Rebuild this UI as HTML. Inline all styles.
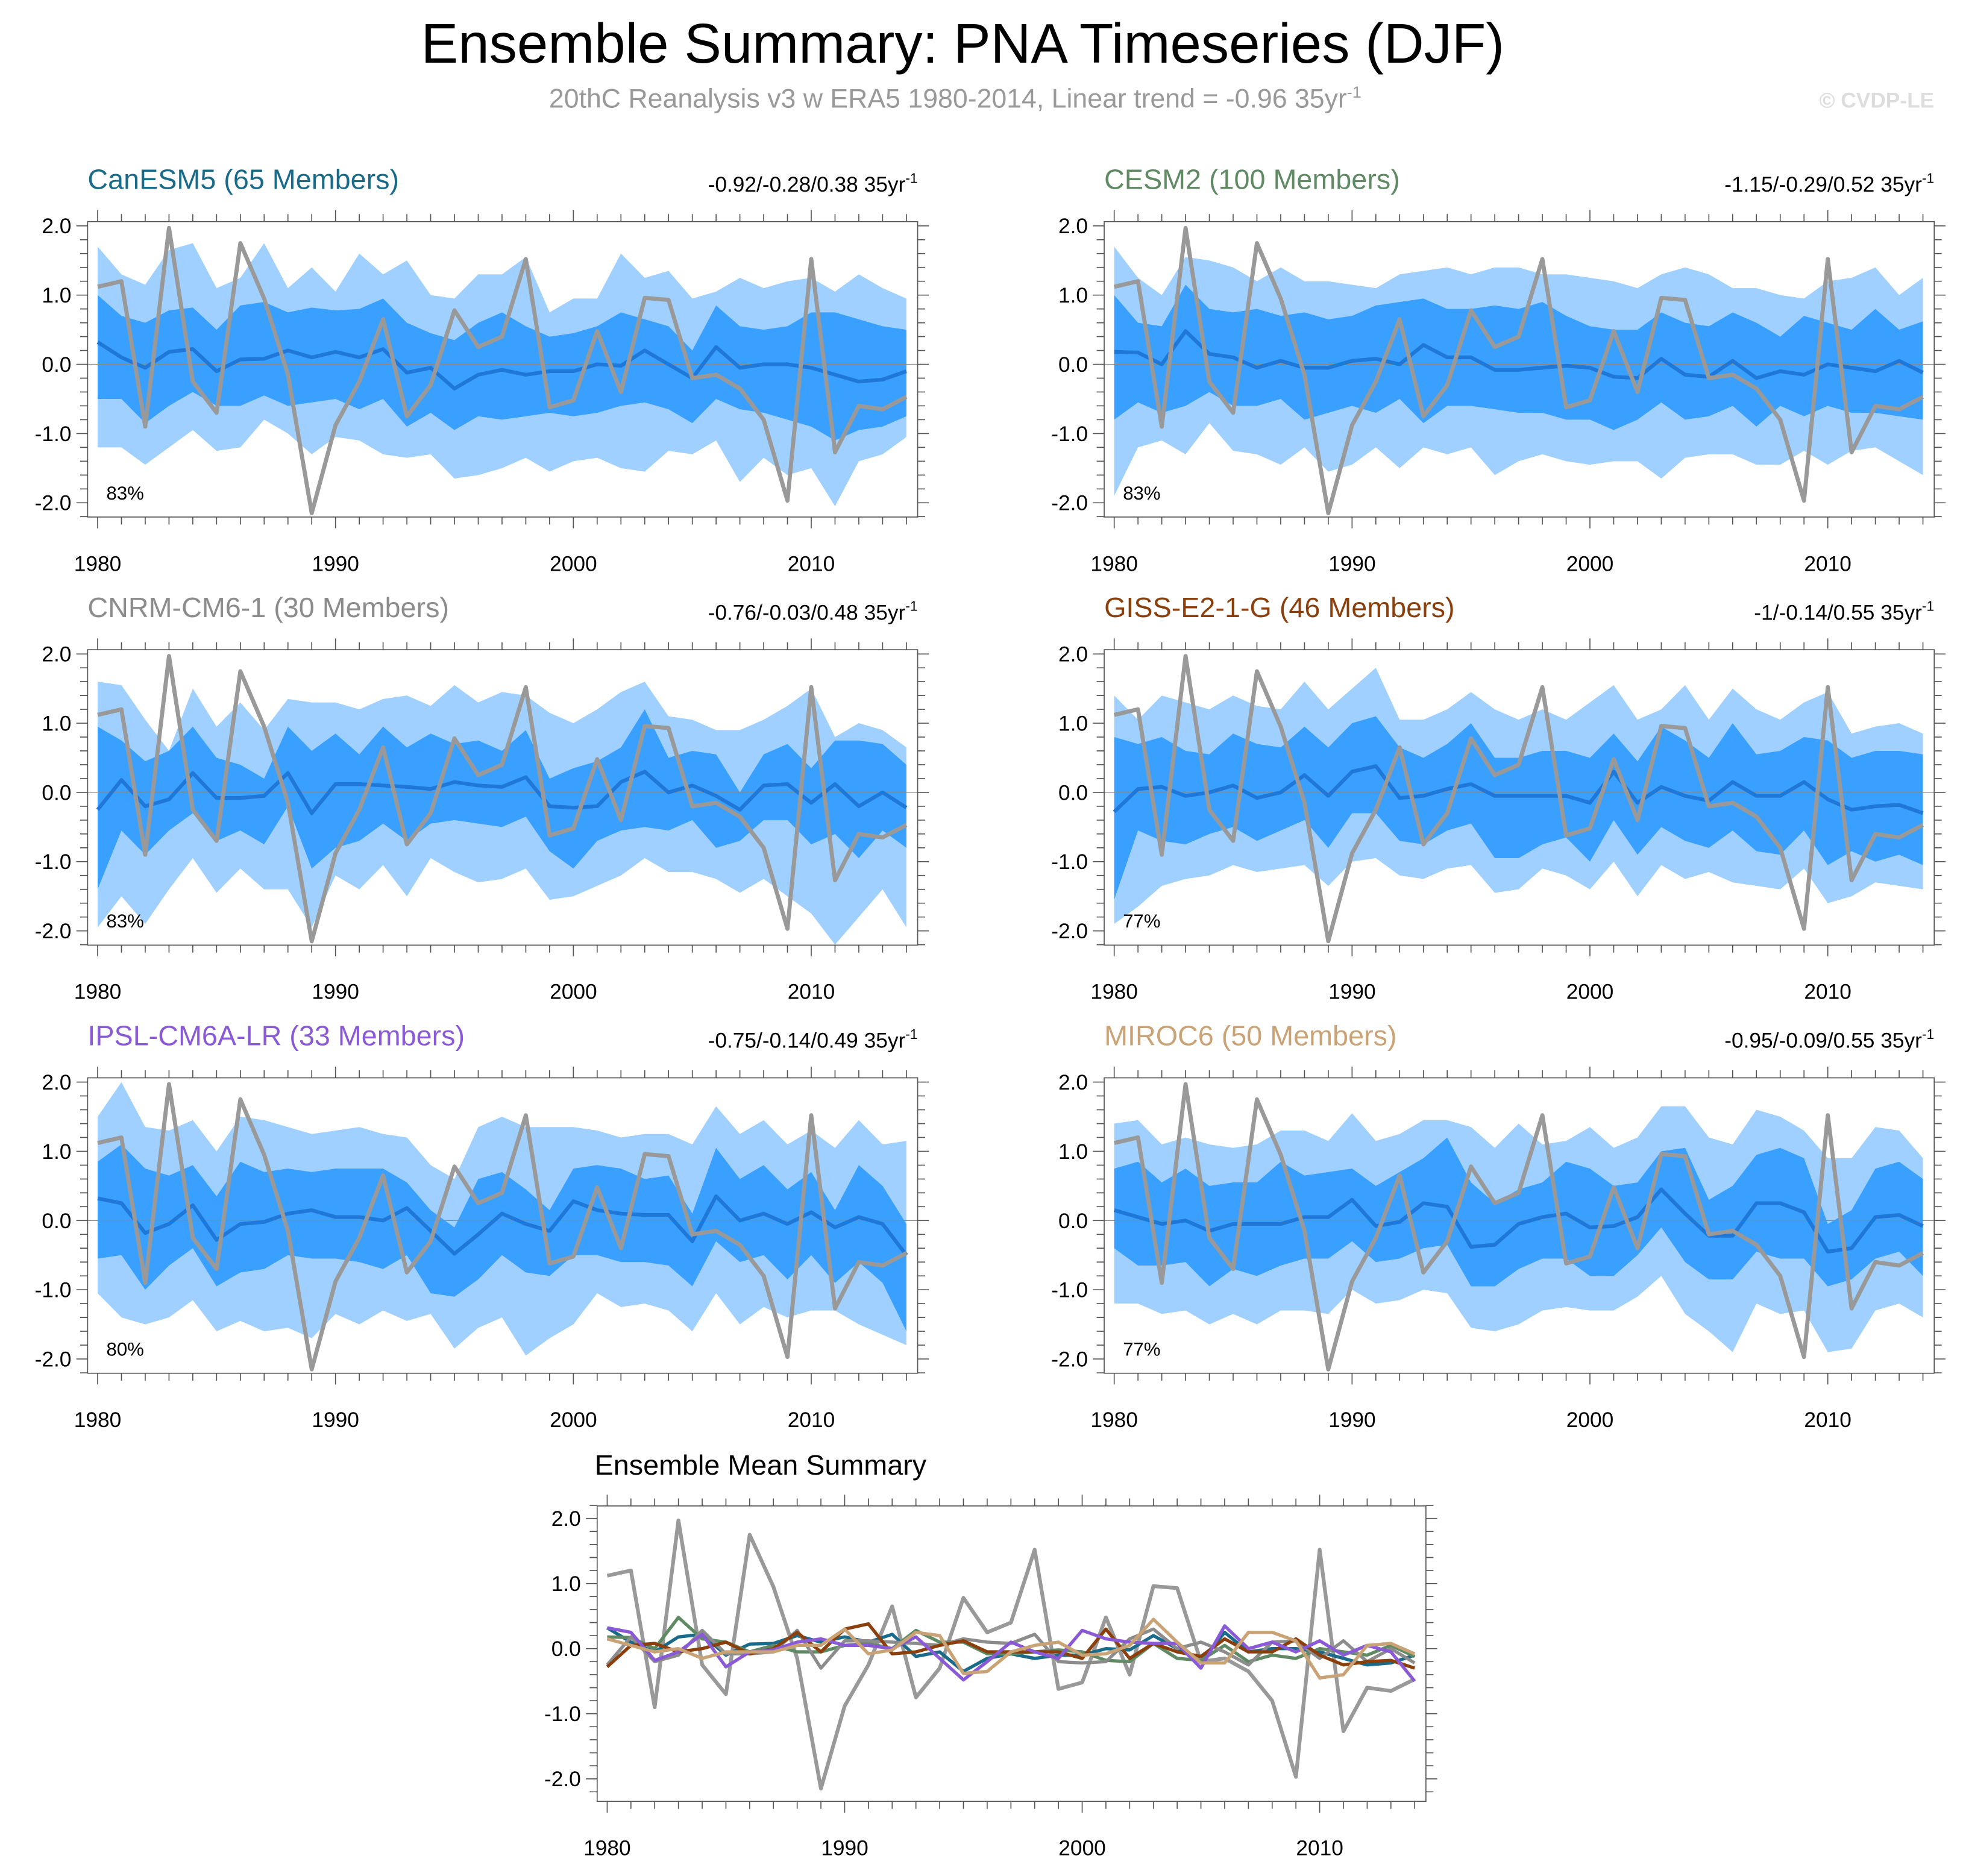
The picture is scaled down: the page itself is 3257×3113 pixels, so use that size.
<!DOCTYPE html>
<html><head><meta charset="utf-8"><style>html,body{margin:0;padding:0;background:#fff}svg{display:block}text{font-family:"Liberation Sans",sans-serif}</style></head>
<body>
<svg id="chart" width="3257" height="3113" viewBox="0 0 1568 1498.6" xmlns="http://www.w3.org/2000/svg">
<text x="769" y="50" font-size="44.5" text-anchor="middle">Ensemble Summary: PNA Timeseries (DJF)</text>
<text x="763" y="86" font-size="21.5" fill="#999" text-anchor="middle">20thC Reanalysis v3 w ERA5 1980-2014, Linear trend = -0.96 35yr<tspan font-size="13" dy="-8">-1</tspan></text>
<text x="1545" y="86" font-size="17" font-weight="bold" fill="#ddd" text-anchor="end">© CVDP-LE</text>
<g id="panels"></g>
</svg>
<script>
const years = Array.from({length:35},(_, i)=>1980+i);
const obs = [1.12,1.2,-0.9,1.97,-0.25,-0.7,1.75,0.95,-0.15,-2.15,-0.88,-0.25,0.65,-0.75,-0.3,0.78,0.25,0.4,1.52,-0.62,-0.52,0.48,-0.4,0.96,0.93,-0.2,-0.15,-0.35,-0.8,-1.97,1.52,-1.27,-0.6,-0.65,-0.47];

const canMean=[0.32,0.1,-0.05,0.18,0.22,-0.1,0.07,0.08,0.2,0.1,0.18,0.1,0.22,-0.12,-0.05,-0.35,-0.15,-0.08,-0.15,-0.1,-0.1,0.0,-0.02,0.2,0.0,-0.2,0.25,-0.05,0.0,0.0,-0.05,-0.15,-0.25,-0.22,-0.1];
const canHi1=[1.0,0.7,0.6,0.78,0.82,0.5,0.85,0.9,0.75,0.82,0.78,0.8,0.95,0.6,0.45,0.35,0.6,0.75,0.55,0.4,0.45,0.55,0.75,0.65,0.55,0.2,0.85,0.55,0.5,0.55,0.75,0.75,0.65,0.55,0.5];
const canLo1=[-0.5,-0.5,-0.85,-0.6,-0.4,-0.6,-0.6,-0.45,-0.6,-0.55,-0.5,-0.65,-0.5,-0.9,-0.7,-0.95,-0.75,-0.8,-0.75,-0.7,-0.75,-0.7,-0.6,-0.55,-0.65,-0.85,-0.5,-0.65,-0.7,-0.8,-0.9,-1.1,-0.95,-0.9,-0.75];
const canHi2=[1.7,1.3,1.15,1.65,1.75,1.1,1.25,1.75,1.1,1.4,1.05,1.6,1.3,1.5,1.0,0.95,1.3,1.3,1.55,0.75,0.95,0.95,1.6,1.25,1.35,0.95,1.05,1.25,1.1,1.2,1.25,1.05,1.3,1.1,0.95];
const canLo2=[-1.2,-1.2,-1.45,-1.2,-0.95,-1.25,-1.2,-0.8,-1.0,-1.3,-1.05,-1.1,-1.3,-1.35,-1.3,-1.65,-1.6,-1.5,-1.35,-1.55,-1.4,-1.35,-1.5,-1.55,-1.25,-1.3,-1.1,-1.7,-1.35,-1.6,-1.5,-2.05,-1.4,-1.3,-1.05];

const cesMean=[0.18,0.17,0.0,0.48,0.15,0.1,-0.05,0.05,-0.05,-0.05,0.05,0.08,0.0,0.28,0.1,0.1,-0.08,-0.08,-0.05,-0.02,-0.05,-0.18,-0.2,0.08,-0.15,-0.18,0.05,-0.2,-0.1,-0.15,0.0,-0.05,-0.1,0.05,-0.12];
const cesHi1=[1.0,0.6,0.55,1.15,0.8,0.75,0.8,0.7,0.75,0.65,0.7,0.85,0.9,0.95,0.8,0.8,0.85,0.8,0.9,0.7,0.55,0.5,0.5,0.75,0.6,0.55,0.75,0.6,0.4,0.7,0.6,0.5,0.8,0.5,0.62];
const cesLo1=[-0.8,-0.55,-0.7,-0.6,-0.4,-0.6,-0.6,-0.5,-0.8,-0.7,-0.6,-0.7,-0.5,-0.85,-0.6,-0.6,-0.65,-0.7,-0.7,-0.8,-0.8,-0.95,-0.8,-0.55,-0.8,-0.75,-0.6,-0.9,-0.6,-0.75,-0.6,-0.7,-0.7,-0.75,-0.8];
const cesHi2=[1.7,1.25,1.0,1.55,1.5,1.4,1.2,1.4,1.2,1.2,1.15,1.1,1.3,1.35,1.4,1.3,1.4,1.4,1.3,1.3,1.25,1.2,1.1,1.3,1.4,1.3,1.1,1.1,1.0,0.95,1.2,1.25,1.4,1.0,1.25];
const cesLo2=[-1.9,-1.2,-1.1,-1.3,-0.85,-1.25,-1.3,-1.45,-1.2,-1.55,-1.45,-1.2,-1.5,-1.2,-1.3,-1.2,-1.6,-1.4,-1.3,-1.4,-1.45,-1.4,-1.4,-1.65,-1.35,-1.3,-1.3,-1.45,-1.45,-1.25,-1.45,-1.25,-1.2,-1.4,-1.6];

const cnrMean=[-0.25,0.18,-0.2,-0.1,0.28,-0.08,-0.08,-0.05,0.28,-0.3,0.12,0.12,0.1,0.08,0.05,0.15,0.1,0.08,0.22,-0.2,-0.22,-0.2,0.15,0.3,0.0,0.1,-0.05,-0.25,0.1,0.12,-0.15,0.12,-0.2,0.0,-0.22];
const cnrHi1=[0.95,0.75,0.45,0.6,0.95,0.5,0.4,0.2,0.95,0.6,0.85,0.55,0.95,0.65,0.85,0.7,0.75,0.6,0.9,0.2,0.35,0.45,0.65,1.2,0.5,0.6,0.55,0.0,0.55,0.7,0.35,0.75,0.75,0.7,0.4];
const cnrLo1=[-1.4,-0.55,-0.9,-0.55,-0.3,-0.7,-0.55,-0.75,-0.2,-1.1,-0.8,-0.7,-0.45,-0.7,-0.45,-0.4,-0.45,-0.5,-0.35,-0.85,-1.1,-0.7,-0.55,-0.5,-0.55,-0.4,-0.8,-0.7,-0.4,-0.4,-0.75,-0.6,-0.95,-0.55,-0.8];
const cnrHi2=[1.6,1.55,1.05,0.6,1.5,0.95,1.3,0.9,1.35,1.3,1.3,1.2,1.35,1.4,1.25,1.55,1.3,1.45,1.4,1.15,1.0,1.2,1.45,1.6,1.1,1.05,0.9,0.9,1.05,1.25,1.5,0.8,1.0,0.9,0.65];
const cnrLo2=[-1.95,-1.5,-1.9,-1.4,-0.95,-1.45,-1.1,-1.4,-1.4,-1.95,-1.2,-1.4,-1.05,-1.5,-0.95,-1.15,-1.3,-1.25,-1.1,-1.55,-1.5,-1.35,-1.2,-0.95,-1.15,-1.15,-1.25,-1.45,-1.25,-1.5,-1.75,-2.2,-1.8,-1.4,-1.95];

const gisMean=[-0.28,0.05,0.08,-0.05,0.0,0.1,-0.08,0.0,0.25,-0.05,0.3,0.38,-0.08,-0.05,0.05,0.12,-0.05,-0.05,-0.05,-0.05,-0.15,0.3,-0.15,0.08,-0.05,-0.12,0.15,-0.05,-0.05,0.15,-0.1,-0.25,-0.2,-0.18,-0.3];
const gisHi1=[0.8,0.7,0.8,0.6,0.55,0.85,0.7,0.65,0.95,0.65,1.0,1.1,0.65,0.5,0.7,1.0,0.5,0.5,0.6,0.6,0.5,0.85,0.45,0.95,0.75,0.5,1.0,0.55,0.6,0.8,0.75,0.5,0.6,0.6,0.55];
const gisLo1=[-1.55,-0.55,-0.7,-0.75,-0.6,-0.5,-0.7,-0.55,-0.4,-0.8,-0.3,-0.3,-0.7,-0.75,-0.55,-0.45,-0.95,-0.95,-0.75,-0.65,-1.0,-0.4,-0.9,-0.5,-0.7,-0.8,-0.55,-0.85,-0.9,-0.55,-1.05,-0.85,-1.0,-0.9,-1.05];
const gisHi2=[1.4,1.05,1.4,1.3,1.2,1.4,1.25,1.2,1.6,1.2,1.5,1.8,1.05,1.05,1.2,1.45,1.2,1.05,1.2,1.05,1.3,1.55,1.05,1.2,1.55,1.05,1.5,1.2,1.05,1.3,1.45,0.85,0.95,1.0,0.85];
const gisLo2=[-1.9,-1.65,-1.35,-1.25,-1.2,-1.05,-1.15,-1.1,-1.05,-1.35,-1.0,-0.95,-1.2,-1.25,-1.1,-1.05,-1.45,-1.4,-1.1,-1.2,-1.4,-1.0,-1.5,-1.05,-1.25,-1.15,-1.3,-1.35,-1.4,-1.1,-1.6,-1.5,-1.3,-1.35,-1.4];

const ipsMean=[0.32,0.25,-0.18,-0.05,0.22,-0.28,-0.05,-0.02,0.1,0.15,0.05,0.05,0.0,0.18,-0.15,-0.48,-0.2,0.1,-0.05,-0.15,0.28,0.15,0.1,0.08,0.08,-0.3,0.35,0.0,0.1,-0.05,0.12,-0.1,0.05,-0.05,-0.5];
const ipsHi1=[0.85,1.1,0.75,0.65,0.8,0.35,0.85,0.7,0.75,0.7,0.75,0.75,0.75,0.55,0.15,-0.1,0.6,0.7,0.45,0.15,0.75,0.8,0.75,0.6,0.65,0.1,1.05,0.6,0.8,0.45,0.7,0.15,0.8,0.5,-0.05];
const ipsLo1=[-0.55,-0.5,-1.0,-0.65,-0.4,-0.95,-0.75,-0.7,-0.5,-0.55,-0.55,-0.6,-0.7,-0.5,-1.05,-1.1,-0.85,-0.5,-0.75,-0.8,-0.5,-0.5,-0.6,-0.6,-0.65,-0.95,-0.3,-0.6,-0.5,-0.85,-0.5,-0.9,-0.6,-0.9,-1.6];
const ipsHi2=[1.5,2.0,1.35,1.3,1.45,1.0,1.5,1.45,1.35,1.25,1.3,1.35,1.25,1.2,0.8,0.6,1.35,1.5,1.35,1.35,1.35,1.3,1.2,1.25,1.25,1.1,1.65,1.25,1.45,1.1,1.3,1.05,1.45,1.1,1.15];
const ipsLo2=[-1.05,-1.4,-1.5,-1.4,-1.15,-1.6,-1.45,-1.6,-1.55,-1.7,-1.35,-1.5,-1.3,-1.45,-1.35,-1.85,-1.55,-1.4,-1.95,-1.7,-1.5,-1.05,-1.25,-1.2,-1.3,-1.6,-1.05,-1.5,-1.25,-1.4,-1.3,-1.3,-1.5,-1.65,-1.8];

const mirMean=[0.15,0.05,-0.05,0.0,-0.15,-0.05,-0.05,-0.05,0.05,0.05,0.3,-0.08,-0.02,0.25,0.2,-0.38,-0.35,-0.05,0.05,0.1,-0.1,-0.08,0.05,0.45,0.1,-0.22,-0.22,0.25,0.25,0.12,-0.45,-0.4,0.05,0.08,-0.08];
const mirHi1=[0.75,0.85,0.55,0.75,0.5,0.55,0.55,0.85,0.65,0.7,0.75,0.5,0.7,0.9,1.2,0.55,0.25,0.45,0.55,0.85,0.75,0.5,0.55,1.0,1.05,0.3,0.5,0.95,1.05,0.9,-0.05,0.15,0.75,0.85,0.6];
const mirLo1=[-0.4,-0.65,-0.65,-0.6,-0.95,-0.7,-0.8,-0.65,-0.55,-0.55,-0.3,-0.6,-0.55,-0.4,-0.35,-0.95,-0.95,-0.7,-0.55,-0.55,-0.8,-0.8,-0.5,-0.1,-0.6,-0.85,-0.85,-0.45,-0.55,-0.55,-0.95,-0.85,-0.55,-0.45,-0.8];
const mirHi2=[1.4,1.45,1.1,1.2,1.1,1.05,1.1,1.3,1.3,1.15,1.55,1.15,1.25,1.45,1.45,1.35,1.05,1.4,1.1,1.15,1.35,1.05,1.2,1.65,1.65,1.2,1.1,1.6,1.5,1.3,0.9,0.9,1.35,1.3,0.9];
const mirLo2=[-1.2,-1.2,-1.35,-1.3,-1.5,-1.35,-1.5,-1.3,-1.3,-1.35,-1.0,-1.2,-1.15,-1.0,-1.05,-1.55,-1.6,-1.5,-1.3,-1.25,-1.3,-1.3,-1.1,-0.8,-1.35,-1.6,-1.9,-1.2,-1.35,-1.3,-1.9,-1.85,-1.3,-1.2,-1.4];

const modelNames=["CanESM5 (65 Members)","CESM2 (100 Members)","CNRM-CM6-1 (30 Members)","GISS-E2-1-G (46 Members)","IPSL-CM6A-LR (33 Members)","MIROC6 (50 Members)"];
const modelStats=["-0.92/-0.28/0.38","-1.15/-0.29/0.52","-0.76/-0.03/0.48","-1/-0.14/0.55","-0.75/-0.14/0.49","-0.95/-0.09/0.55"];
const modelPct=["83%","83%","83%","77%","80%","77%"];
const yTicks=[2,1,0,-1,-2];
const yTickLabels=["2.0","1.0","0.0","-1.0","-2.0"];
const xTicks=[1980,1990,2000,2010];

const models=[
 {mean:canMean,h1:canHi1,l1:canLo1,h2:canHi2,l2:canLo2,color:"#1a6b8a"},
 {mean:cesMean,h1:cesHi1,l1:cesLo1,h2:cesHi2,l2:cesLo2,color:"#5f8a63"},
 {mean:cnrMean,h1:cnrHi1,l1:cnrLo1,h2:cnrHi2,l2:cnrLo2,color:"#8c8c8c"},
 {mean:gisMean,h1:gisHi1,l1:gisLo1,h2:gisHi2,l2:gisLo2,color:"#8b3f0c"},
 {mean:ipsMean,h1:ipsHi1,l1:ipsLo1,h2:ipsHi2,l2:ipsLo2,color:"#8a5ad6"},
 {mean:mirMean,h1:mirHi1,l1:mirLo1,h2:mirHi2,l2:mirLo2,color:"#c9a275"}
];

const NS="http://www.w3.org/2000/svg";
const root=document.getElementById("panels");
function mk(tag,attrs,parent){const e=document.createElementNS(NS,tag);for(const k in attrs)e.setAttribute(k,attrs[k]);(parent||root).appendChild(e);return e;}

function axes(g,x0,x1,y0,y1,zeroY,unit){
  const xs=v=>x0+8+(v-1980)*((x1-x0-17)/34);
  const ys=v=>zeroY-v*unit;
  const frame=mk("rect",{x:x0,y:y0,width:x1-x0,height:y1-y0,fill:"none",stroke:"#555","stroke-width":0.8},g);
  
  
  let d="";
  for(let v=-2.2;v<=2.21;v+=0.2){const y=ys(v);if(y<y0-0.5||y>y1+0.5)continue;const maj=Math.abs(v-Math.round(v))<0.01;const L=maj?9:6;d+=`M${x0},${y}h${-L}M${x1},${y}h${L}`;}
  for(let yr=1980;yr<=2014;yr++){const x=xs(yr);const L=(yr%10===0)?9:6;d+=`M${x},${y1}v${L}M${x},${y0}v${-L}`;}
  mk("path",{d:d,stroke:"#555","stroke-width":0.8,fill:"none"},g);
  yTicks.forEach((v,i)=>{const t=mk("text",{x:x0-13,y:ys(v)+6,"font-size":17,"text-anchor":"end"},g);t.textContent=yTickLabels[i];
    
    });
  xTicks.forEach(v=>{const t=mk("text",{x:xs(v),y:y1+43,"font-size":17,"text-anchor":"middle"},g);t.textContent=v;
    
    });
  return {xs,ys};
}
function line(g,arr,xs,ys,color,w){
  return mk("path",{d:arr.map((v,i)=>(i?"L":"M")+xs(years[i]).toFixed(2)+","+ys(v).toFixed(2)).join(""),fill:"none",stroke:color,"stroke-width":w,"stroke-linejoin":"round"},g);
}
function band(g,hi,lo,xs,ys,color){
  let d=hi.map((v,i)=>(i?"L":"M")+xs(years[i]).toFixed(2)+","+ys(v).toFixed(2)).join("");
  for(let i=lo.length-1;i>=0;i--)d+="L"+xs(years[i]).toFixed(2)+","+ys(lo[i]).toFixed(2);
  return mk("path",{d:d+"Z",fill:color,stroke:"none"},g);
}

const lefts=[[70,733],[882,1545]];
const tops=[177,519,861];
models.forEach((m,k)=>{
  const [x0,x1]=lefts[k%2];const y0=tops[Math.floor(k/2)];const y1=y0+236;
  const g=mk("g",{});
  
  
  const zeroY=y0+114,unit=55.3;
  const xs=v=>x0+8+(v-1980)*((x1-x0-17)/34);
  const ys=v=>zeroY-v*unit;
  const b2=band(g,m.h2,m.l2,xs,ys,"#9fd0ff");
  
  
  const b1=band(g,m.h1,m.l1,xs,ys,"#3aa0ff");
  
  
  const z=mk("line",{x1:x0,x2:x1,y1:ys(0),y2:ys(0),stroke:"#888","stroke-width":0.6},g);
  
  
  const ml=line(g,m.mean,xs,ys,"#1f78d8",3);
  
  
  const ol=line(g,obs,xs,ys,"#999",3.3);
  
  
  axes(g,x0,x1,y0,y1,zeroY,unit);
  const t=mk("text",{x:x0,y:y0-26,"font-size":22.5,fill:m.color},g);t.textContent=modelNames[k];
  
  
  const s=mk("text",{x:x1,y:y0-24,"font-size":17,"text-anchor":"end"},g);
  s.innerHTML=modelStats[k]+" 35yr<tspan font-size='11' dy='-7'>-1</tspan>";
  
  
  const p=mk("text",{x:x0+15,y:y1-14,"font-size":15},g);p.textContent=modelPct[k];
  
  
});

(function(){
  const x0=477,x1=1139,y0=1203,y1=1439;
  const g=mk("g",{});
  
  
  const zeroY=1317,unit=52;
  const xs=v=>x0+8+(v-1980)*((x1-x0-17)/34);
  const ys=v=>zeroY-v*unit;
  const ol=line(g,obs,xs,ys,"#999",3);
  
  
  models.forEach(m=>{const l=line(g,m.mean,xs,ys,m.color,2.6);
    
    });
  axes(g,x0,x1,y0,y1,zeroY,unit);
  const t=mk("text",{x:475,y:1178,"font-size":22.5},g);t.textContent="Ensemble Mean Summary";
  
  
})();
</script>
</body></html>
